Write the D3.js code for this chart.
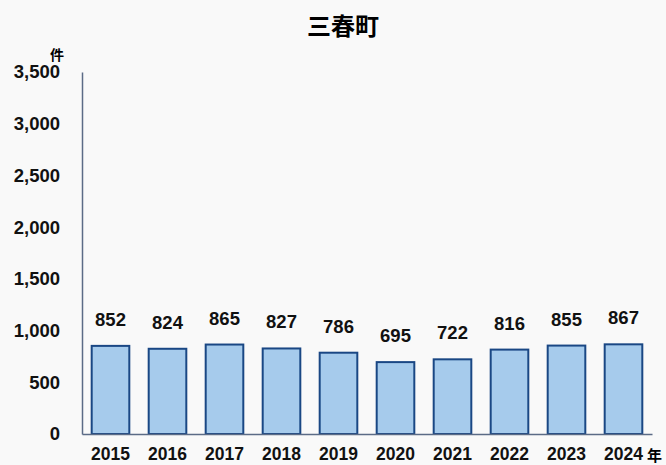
<!DOCTYPE html>
<html>
<head>
<meta charset="utf-8">
<script src="https://cdn.jsdelivr.net/npm/d3@7"></script>
<style>
  body { margin: 0; background: #f9f9f9; }
  svg { display: block; font-family: "Liberation Sans", "Noto Sans CJK JP", sans-serif; }
  .cjk { font-family: "Noto Sans CJK JP", sans-serif; }
</style>
</head>
<body>
<svg id="chart" width="666" height="465"></svg>
<script>
var years = ["2015", "2016", "2017", "2018", "2019", "2020", "2021", "2022", "2023", "2024"];
var counts = [852, 824, 865, 827, 786, 695, 722, 816, 855, 867];
var yTicks = [0, 500, 1000, 1500, 2000, 2500, 3000, 3500];

var svg = d3.select("#chart");
var margin = { top: 72, right: 14, bottom: 31, left: 82 };
var width = 666 - margin.left - margin.right;
var height = 465 - margin.top - margin.bottom;

var x = d3.scaleBand().domain(years).range([0, width]).paddingInner(0.34).paddingOuter(0.17);
var y = d3.scaleLinear().domain([0, 3500]).range([height, 0]);

var plot = svg.append("g").attr("transform", "translate(" + margin.left + "," + margin.top + ")");

// title
svg.append("text")
  .attr("class", "cjk")
  .attr("x", 343).attr("y", 35)
  .attr("text-anchor", "middle")
  .attr("font-size", 24).attr("font-weight", "bold")
  .text("三春町");

// y axis
var yAxis = plot.append("g")
  .call(d3.axisLeft(y).tickValues(yTicks).tickSize(0).tickPadding(22).tickFormat(d3.format(",")));
yAxis.select(".domain").attr("stroke", "#5b6b86").attr("stroke-width", 1.5);
yAxis.selectAll("text").attr("font-size", 18.5).attr("font-weight", "bold").attr("fill", "#111");

svg.append("text")
  .attr("class", "cjk")
  .attr("x", 57).attr("y", 60)
  .attr("text-anchor", "middle")
  .attr("font-size", 14).attr("font-weight", "bold")
  .text("件");

// bars
plot.selectAll("rect.bar")
  .data(counts)
  .enter()
  .append("rect")
  .attr("class", "bar")
  .attr("x", function(d, i) { return x(years[i]); })
  .attr("y", function(d) { return y(d); })
  .attr("width", x.bandwidth())
  .attr("height", function(d) { return height - y(d); })
  .attr("fill", "#a6cbec")
  .attr("stroke", "#1a4784")
  .attr("stroke-width", 2);

plot.selectAll("text.val")
  .data(counts)
  .enter()
  .append("text")
  .attr("class", "val")
  .attr("x", function(d, i) { return x(years[i]) + x.bandwidth() / 2; })
  .attr("y", function(d) { return y(d) - 20; })
  .attr("text-anchor", "middle")
  .attr("font-size", 18.5).attr("font-weight", "bold")
  .attr("fill", "#111")
  .text(function(d) { return d; });

// x axis
var xAxis = plot.append("g")
  .attr("transform", "translate(0," + height + ")")
  .call(d3.axisBottom(x).tickSize(0).tickPadding(14));
xAxis.select(".domain").attr("stroke", "#5b6b86").attr("stroke-width", 1.5);
xAxis.selectAll("text").attr("font-size", 17.5).attr("font-weight", "bold").attr("fill", "#111");

svg.append("text")
  .attr("class", "cjk")
  .attr("x", 647).attr("y", 461)
  .attr("font-size", 15).attr("font-weight", "bold")
  .text("年");
</script>
</body>
</html>
